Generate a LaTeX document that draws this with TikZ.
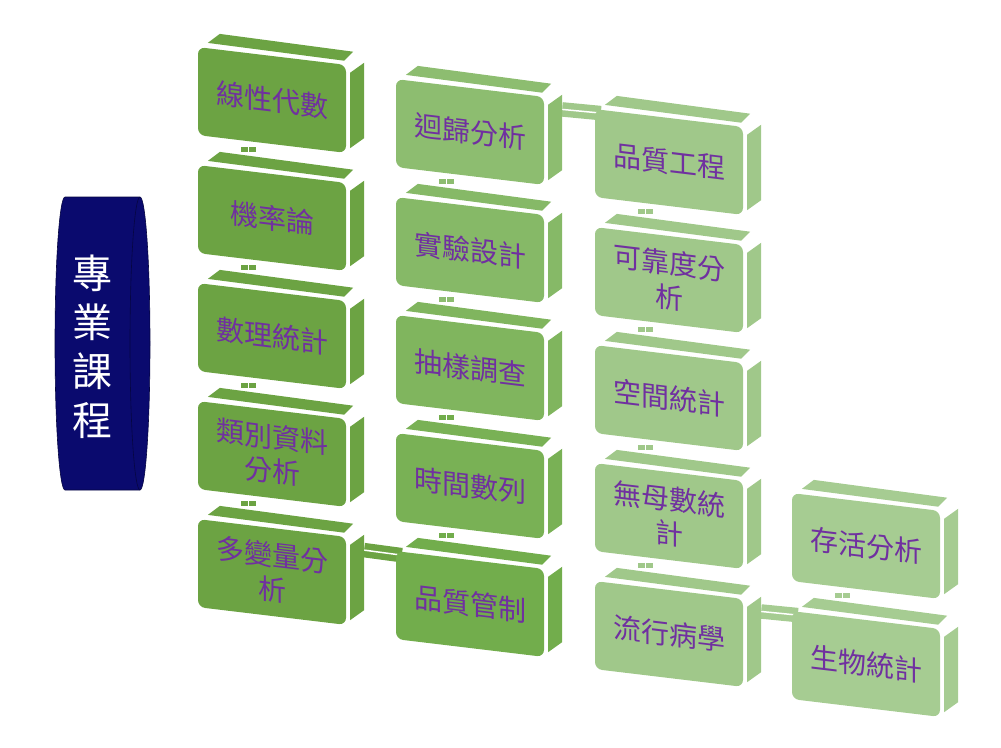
\documentclass[tikz,border=0pt]{standalone}
\usepackage{fontspec}
\setmainfont{Noto Sans CJK TC}
\usetikzlibrary{calc,backgrounds}
\definecolor{colone}{RGB}{108,163,67}
\definecolor{coltwotop}{RGB}{141,189,112}
\definecolor{coltwobot}{RGB}{114,173,76}
\definecolor{colthree}{RGB}{160,200,138}
\definecolor{colfour}{RGB}{166,204,146}
\definecolor{coursetext}{RGB}{112,48,160}
\definecolor{corenavy}{RGB}{10,10,110}
\tikzset{
% Course boxes: sheared front face, the top and side faces come from \coursebox
course/.style={rectangle,rounded corners=7,yslant=-0.12,minimum width=148,minimum height=88,
  inner sep=2,align=center,text=coursetext,font=\fontsize{28}{34}\selectfont},
title/.style={align=center,text=white,font=\fontsize{40}{49}\selectfont},
% Links between boxes
vlink/.style={line width=6.5,double=white,double distance=1.5,shorten <=6,shorten >=19},
hlink/.style={line width=6.5,double=white,double distance=1.5,shorten <=18,shorten >=-2}
}
% name, position, colour, text
\newcommand{\coursebox}[4]{%
\node(#1)[course,fill=#3] at (#2) {#4};
\fill[#3] ($(#1.north west)+(10,-4)$) -- ($(#1.north east)+(-2,-4)$)
  -- ($(#1.north east)+(7,-13)$) -- ($(#1.north west)+(22,-13)$) -- cycle;
\fill[#3] ($(#1.north east)+(4,8)$) -- ($(#1.south east)+(4,-5)$)
  -- ($(#1.south east)+(18,-15)$) -- ($(#1.north east)+(18,-2)$) -- cycle;
}
\begin{document}
\begin{tikzpicture}[x=1pt,y=-1pt]
\useasboundingbox (0,0) rectangle (1001,747);
% Core courses: the navy drum
\filldraw[fill=corenavy,draw=corenavy!60!black,line width=0.6]
  (65,197) arc[start angle=-90,end angle=-270,x radius=10,y radius=146.5]
  -- (140,490) arc[start angle=90,end angle=-90,x radius=10,y radius=146.5] -- cycle;
\draw[corenavy!60!black,line width=0.6]
  (140,197) arc[start angle=-90,end angle=-270,x radius=10,y radius=146.5];
\node(core)[title] at (92,347) {專\\業\\課\\程};
% First column
\coursebox{linalg}{272,100}{colone}{線性代數}
\coursebox{prob}{272,218}{colone}{機率論}
\coursebox{mathstat}{272,336}{colone}{數理統計}
\coursebox{catdata}{272,454}{colone}{類別資料\\分析}
\coursebox{multivar}{272,572}{colone}{多變量分\\析}
% Second column
\coursebox{regress}{470,132}{coltwotop}{迴歸分析}
\coursebox{design}{470,250}{coltwotop!75!coltwobot}{實驗設計}
\coursebox{sampling}{470,368}{coltwotop!50!coltwobot}{抽樣調查}
\coursebox{timeser}{470,486}{coltwotop!25!coltwobot}{時間數列}
\coursebox{qcontrol}{470,604}{coltwobot}{品質管制}
% Third column
\coursebox{qeng}{669,162}{colthree}{品質工程}
\coursebox{reliab}{669,280}{colthree}{可靠度分\\析}
\coursebox{spatial}{669,398}{colthree}{空間統計}
\coursebox{nonpar}{669,516}{colthree}{無母數統\\計}
\coursebox{epidem}{669,634}{colthree}{流行病學}
% Fourth column
\coursebox{survival}{866,546}{colfour}{存活分析}
\coursebox{biostat}{866,664}{colfour}{生物統計}
% Links
\begin{scope}[on background layer]
\foreach \a/\b/\c in {linalg/prob/colone,prob/mathstat/colone,mathstat/catdata/colone,
  catdata/multivar/colone,regress/design/coltwotop,design/sampling/coltwotop,
  sampling/timeser/coltwobot,timeser/qcontrol/coltwobot,qeng/reliab/colthree,
  reliab/spatial/colthree,spatial/nonpar/colthree,nonpar/epidem/colthree,
  survival/biostat/colfour}
  \draw[vlink,\c] ($(\a.south west)!.34!(\a.south east)$) -- ($(\b.north west)!.34!(\b.north east)$);
\foreach \a/\b/\c in {regress/qeng/colthree,multivar/qcontrol/colone,epidem/biostat/colfour}
  \draw[hlink,\c] ($(\a.north east)+(0,11)$) -- ($(\b.north west)+(4,4)$);
\end{scope}
\end{tikzpicture}
\end{document}
